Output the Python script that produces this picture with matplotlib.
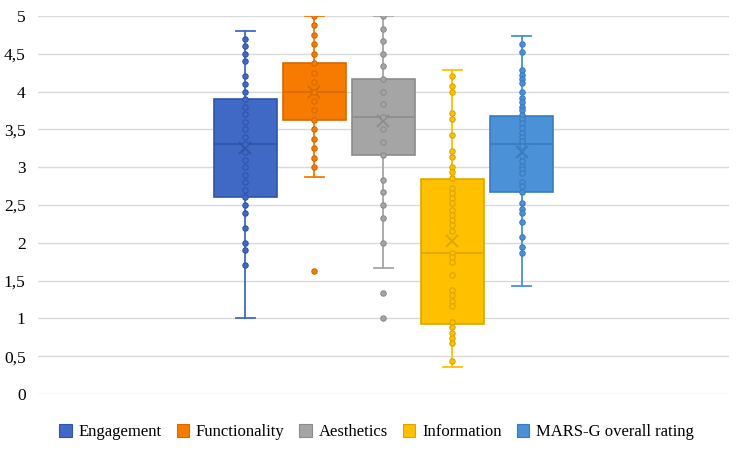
import matplotlib.pyplot as plt
from matplotlib.patches import Patch

plt.rcParams['font.family'] = ['Liberation Serif', 'DejaVu Serif']

categories = ["Engagement", "Functionality", "Aesthetics", "Information", "MARS-G overall rating"]
colors = ["#4069C6", "#F77B00", "#A5A5A5", "#FFC000", "#4A91D8"]
dark = ["#2F55A8", "#D46A00", "#8C8C8C", "#DCA500", "#3A7BC0"]

# box statistics
q1 = [2.6, 3.625, 3.167, 0.93, 2.67]
median = [3.3, 4.0, 3.667, 1.86, 3.3]
q3 = [3.9, 4.375, 4.167, 2.85, 3.68]
whisker_low = [1.0, 2.875, 1.667, 0.36, 1.43]
whisker_high = [4.8, 5.0, 5.0, 4.28, 4.74]
means = [3.26, 3.99, 3.61, 2.03, 3.2]

# individual ratings (inner points and outliers)
engagement = [4.7, 4.6, 4.5, 4.4, 4.2, 4.1, 4.0, 3.9, 3.8, 3.7, 3.6, 3.5, 3.4, 3.3,
              3.2, 3.1, 3.0, 2.9, 2.8, 2.7, 2.6, 2.5, 2.4, 2.2, 2.0, 1.9, 1.7]
functionality = [5.0, 4.875, 4.75, 4.625, 4.5, 4.375, 4.25, 4.125, 4.0, 3.875, 3.75,
                 3.625, 3.5, 3.375, 3.25, 3.125, 3.0, 1.625]
aesthetics = [5.0, 4.833, 4.667, 4.5, 4.333, 4.167, 4.0, 3.833, 3.667, 3.5, 3.333,
              3.167, 2.833, 2.667, 2.5, 2.333, 2.0, 1.333, 1.0]
information = [4.21, 4.07, 4.0, 3.71, 3.64, 3.43, 3.21, 3.14, 3.0, 2.93, 2.86,
               2.72, 2.66, 2.59, 2.52, 2.44, 2.37, 2.30, 2.23, 2.16, 1.87, 1.81,
               1.74, 1.58, 1.38, 1.31, 1.23, 1.16, 0.95, 0.88, 0.81, 0.74, 0.67, 0.44]
overall = [4.63, 4.52, 4.29, 4.22, 4.16, 4.11, 4.0, 3.92, 3.86, 3.80, 3.75, 3.69,
           3.64, 3.58, 3.52, 3.45, 3.40, 3.34, 3.28, 3.15, 3.08, 3.02, 2.97, 2.92,
           2.81, 2.75, 2.67, 2.53, 2.45, 2.39, 2.27, 2.08, 1.94, 1.87]
points = [engagement, functionality, aesthetics, information, overall]

fig = plt.figure(figsize=(7.38, 4.55), dpi=100)
ax = fig.add_axes([0.0515, 0.134, 0.936, 0.831])

positions = [1, 2, 3, 4, 5]
for i in range(5):
    stats = [{"q1": q1[i], "med": median[i], "q3": q3[i],
              "whislo": whisker_low[i], "whishi": whisker_high[i],
              "mean": means[i], "fliers": []}]
    ax.bxp(stats, positions=[positions[i]], widths=0.91, patch_artist=True,
           showmeans=True, showfliers=False,
           boxprops=dict(facecolor=colors[i], edgecolor=dark[i], linewidth=1.2),
           medianprops=dict(color=dark[i], linewidth=1.2),
           whiskerprops=dict(color=colors[i], linewidth=1.3),
           capprops=dict(color=colors[i], linewidth=1.3),
           meanprops=dict(marker="x", markeredgecolor=dark[i], markersize=8,
                          markeredgewidth=1.3),
           capwidths=0.27, zorder=2)
    ax.scatter([positions[i]] * len(points[i]), points[i], s=15,
               facecolor=colors[i], edgecolor=dark[i], linewidth=0.8, zorder=3)

ax.set_xlim(-2, 8)
ax.set_ylim(0, 5)
ax.set_yticks([0, 0.5, 1, 1.5, 2, 2.5, 3, 3.5, 4, 4.5, 5])
ax.set_yticklabels(["0", "0,5", "1", "1,5", "2", "2,5", "3", "3,5", "4", "4,5", "5"])
ax.set_xticks([])
ax.grid(axis="y", color="#D9D9D9", linewidth=1)
ax.set_axisbelow(True)
for s in ax.spines.values():
    s.set_visible(False)
ax.tick_params(axis="y", length=0, pad=9, labelsize=12.5)

handles = [Patch(facecolor=c, edgecolor=d, linewidth=0.8) for c, d in zip(colors, dark)]
fig.legend(handles, categories, loc="center", bbox_to_anchor=(0.51, 0.05), ncol=5,
           frameon=False, fontsize=12, handlelength=0.75, handleheight=0.75,
           handletextpad=0.4, columnspacing=0.9)

fig.savefig("out.png", dpi=100)
